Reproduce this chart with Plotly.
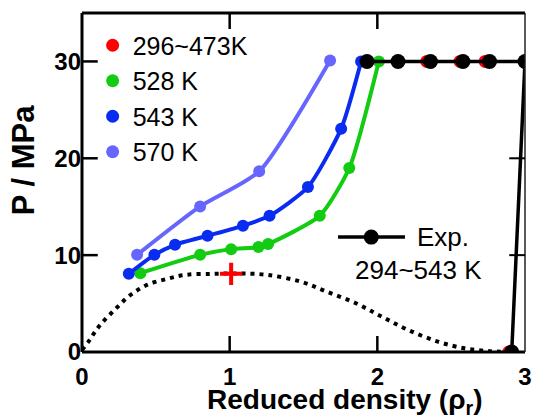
import plotly.graph_objects as go

# ---- data ----
spinodal_x = [0.0, 0.044, 0.089, 0.133, 0.22, 0.32, 0.44, 0.57, 0.70, 0.88, 1.0, 1.1, 1.256, 1.48, 1.655, 1.855, 2.03, 2.21, 2.41, 2.59, 2.75, 2.88]
spinodal_y = [0.2, 1.07, 2.1, 2.97, 4.34, 5.79, 6.93, 7.52, 7.96, 8.07, 8.1, 8.1, 7.96, 7.27, 6.24, 5.03, 3.65, 2.27, 1.07, 0.38, 0.1, 0.0]

red_x = [2.335, 2.56, 2.73, 2.89]
red_y = [30, 30, 30, 0]

green_x = [0.395, 0.80, 1.01, 1.195, 1.26, 1.61, 1.81, 2.01]
green_y = [8.14, 10.03, 10.62, 10.83, 11.14, 14.06, 19.0, 30.0]

blue_x = [0.317, 0.49, 0.63, 0.85, 1.09, 1.27, 1.53, 1.755, 1.89]
blue_y = [8.07, 10.03, 11.07, 12.0, 13.03, 14.06, 17.03, 23.06, 30.0]

lav_x = [0.373, 0.80, 1.20, 1.68]
lav_y = [10.03, 15.03, 18.65, 30.1]

exp_x = [1.93, 2.14, 2.36, 2.58, 2.76, 3.0, 2.91]
exp_y = [30, 30, 30, 30, 30, 30, 0]

crit_x = [1.01]
crit_y = [8.07]

x_ticks = [0, 1, 2, 3]
y_ticks = [0, 10, 20, 30]
x_ticktext = ["<b>0</b>", "<b>1</b>", "<b>2</b>", "<b>3</b>"]
y_ticktext = ["<b>0</b>", "<b>10</b>", "<b>20</b>", "<b>30</b>"]

RED = "#ff0000"
GREEN = "#11cc11"
BLUE = "#0a2cf0"
LAV = "#6666ff"

FONT = "Liberation Sans"

W, H = 538, 417
ML, MR, MT, MB = 82, 6, 13, 65
PW, PH = W - ML - MR, H - MT - MB
TICKLEN = 16

fig = go.Figure()

fig.add_trace(go.Scatter(x=spinodal_x, y=spinodal_y, mode="lines",
                         line=dict(color="black", width=4, dash="4px,5px", shape="spline"),
                         showlegend=False, hoverinfo="skip"))

fig.add_trace(go.Scatter(x=red_x, y=red_y, mode="markers", name="296~473K",
                         marker=dict(color=RED, size=13)))

for xs, ys, col, nm in [(lav_x, lav_y, LAV, "570 K"),
                        (green_x, green_y, GREEN, "528 K"),
                        (blue_x, blue_y, BLUE, "543 K")]:
    fig.add_trace(go.Scatter(x=xs, y=ys, mode="lines+markers", name=nm,
                             line=dict(color=col, width=4, shape="spline", smoothing=0.6),
                             marker=dict(color=col, size=12), showlegend=False))

# legend-only marker entries (order: red, green, blue, lavender)
for col, nm in [(GREEN, "528 K"), (BLUE, "543 K"), (LAV, "570 K")]:
    fig.add_trace(go.Scatter(x=[None], y=[None], mode="markers", name=nm,
                             marker=dict(color=col, size=13)))

fig.add_trace(go.Scatter(x=exp_x, y=exp_y, mode="lines+markers", name="Exp.",
                         line=dict(color="black", width=3.5),
                         marker=dict(color="black", size=15),
                         showlegend=False))

fig.add_trace(go.Scatter(x=crit_x, y=crit_y, mode="markers",
                         marker=dict(symbol="cross-thin", size=16, line=dict(color=RED, width=4)),
                         showlegend=False))

# ---- frame and inward ticks ----
frame = dict(color="black", width=3)
fig.add_shape(type="line", xref="paper", yref="paper", x0=0, x1=0, y0=0, y1=1, line=frame)
fig.add_shape(type="line", xref="paper", yref="paper", x0=0, x1=1, y0=0, y1=0, line=frame)
fig.add_shape(type="line", xref="paper", yref="paper", x0=0, x1=1, y0=1, y1=1, line=frame)
fig.add_shape(type="line", xref="paper", yref="paper", x0=1, x1=1, y0=0, y1=1,
              line=dict(color="#222", width=1.5))
tx = TICKLEN / PW
ty = TICKLEN / PH
for v in x_ticks[1:-1]:
    fig.add_shape(type="line", xref="x", yref="paper", x0=v, x1=v, y0=0, y1=ty,
                  line=dict(color="black", width=2.5))
    fig.add_shape(type="line", xref="x", yref="paper", x0=v, x1=v, y0=1 - ty, y1=1,
                  line=dict(color="black", width=2.5))
for v in y_ticks[1:]:
    fig.add_shape(type="line", xref="paper", yref="y", x0=0, x1=tx, y0=v, y1=v,
                  line=dict(color="black", width=2.5))
    fig.add_shape(type="line", xref="paper", yref="y", x0=1 - tx, x1=1, y0=v, y1=v,
                  line=dict(color="black", width=2))

# legend key for the experimental series (paper coordinates)
key_y = 0.339
key_cx = 0.653
fig.add_shape(type="line", xref="paper", yref="paper", x0=0.578, x1=0.729, y0=key_y, y1=key_y,
              line=dict(color="black", width=3.5))
fig.add_shape(type="circle", xref="paper", yref="paper", x0=-7.5, x1=7.5, y0=-7.5, y1=7.5,
              xsizemode="pixel", ysizemode="pixel", xanchor=key_cx, yanchor=key_y,
              line=dict(color="black", width=0), fillcolor="black")

fig.update_layout(
    width=W, height=H,
    margin=dict(l=ML, r=MR, t=MT, b=MB),
    paper_bgcolor="white", plot_bgcolor="white",
    font=dict(family=FONT, color="black"),
    xaxis=dict(range=[0, 3], tickvals=x_ticks, ticktext=x_ticktext, ticks="",
               showline=False, showgrid=False, zeroline=False, ticklabeloverflow="allow",
               ticklabelstandoff=8, tickfont=dict(family=FONT, size=24)),
    yaxis=dict(range=[0, 35], tickvals=y_ticks, ticktext=y_ticktext, ticks="",
               showline=False, showgrid=False, zeroline=False,
               tickfont=dict(family=FONT, size=24)),
    legend=dict(x=0.024, y=0.972, xanchor="left", yanchor="top", bgcolor="rgba(0,0,0,0)",
                font=dict(family=FONT, size=25), tracegroupgap=0, itemwidth=30,
                traceorder="normal"),
    annotations=[
        dict(text="Exp.", x=0.751, y=key_y, xref="paper", yref="paper",
             xanchor="left", yanchor="middle", showarrow=False,
             font=dict(family=FONT, size=26)),
        dict(text="294~543 K", x=0.611, y=0.242, xref="paper", yref="paper",
             xanchor="left", yanchor="middle", showarrow=False,
             font=dict(family=FONT, size=26)),
        dict(text="<b>Reduced density (ρ<sub>r</sub>)</b>", x=0.593, y=-0.145, xref="paper", yref="paper",
             xanchor="center", yanchor="middle", showarrow=False,
             font=dict(family=FONT, size=28)),
        dict(text="<b>P / MPa</b>", x=-0.133, y=0.566, xref="paper", yref="paper", textangle=-90,
             xanchor="center", yanchor="middle", showarrow=False,
             font=dict(family=FONT, size=31)),
    ],
)

fig.write_html("out.html", config={"displayModeBar": False},
               post_script="document.body.style.margin='0px';")
